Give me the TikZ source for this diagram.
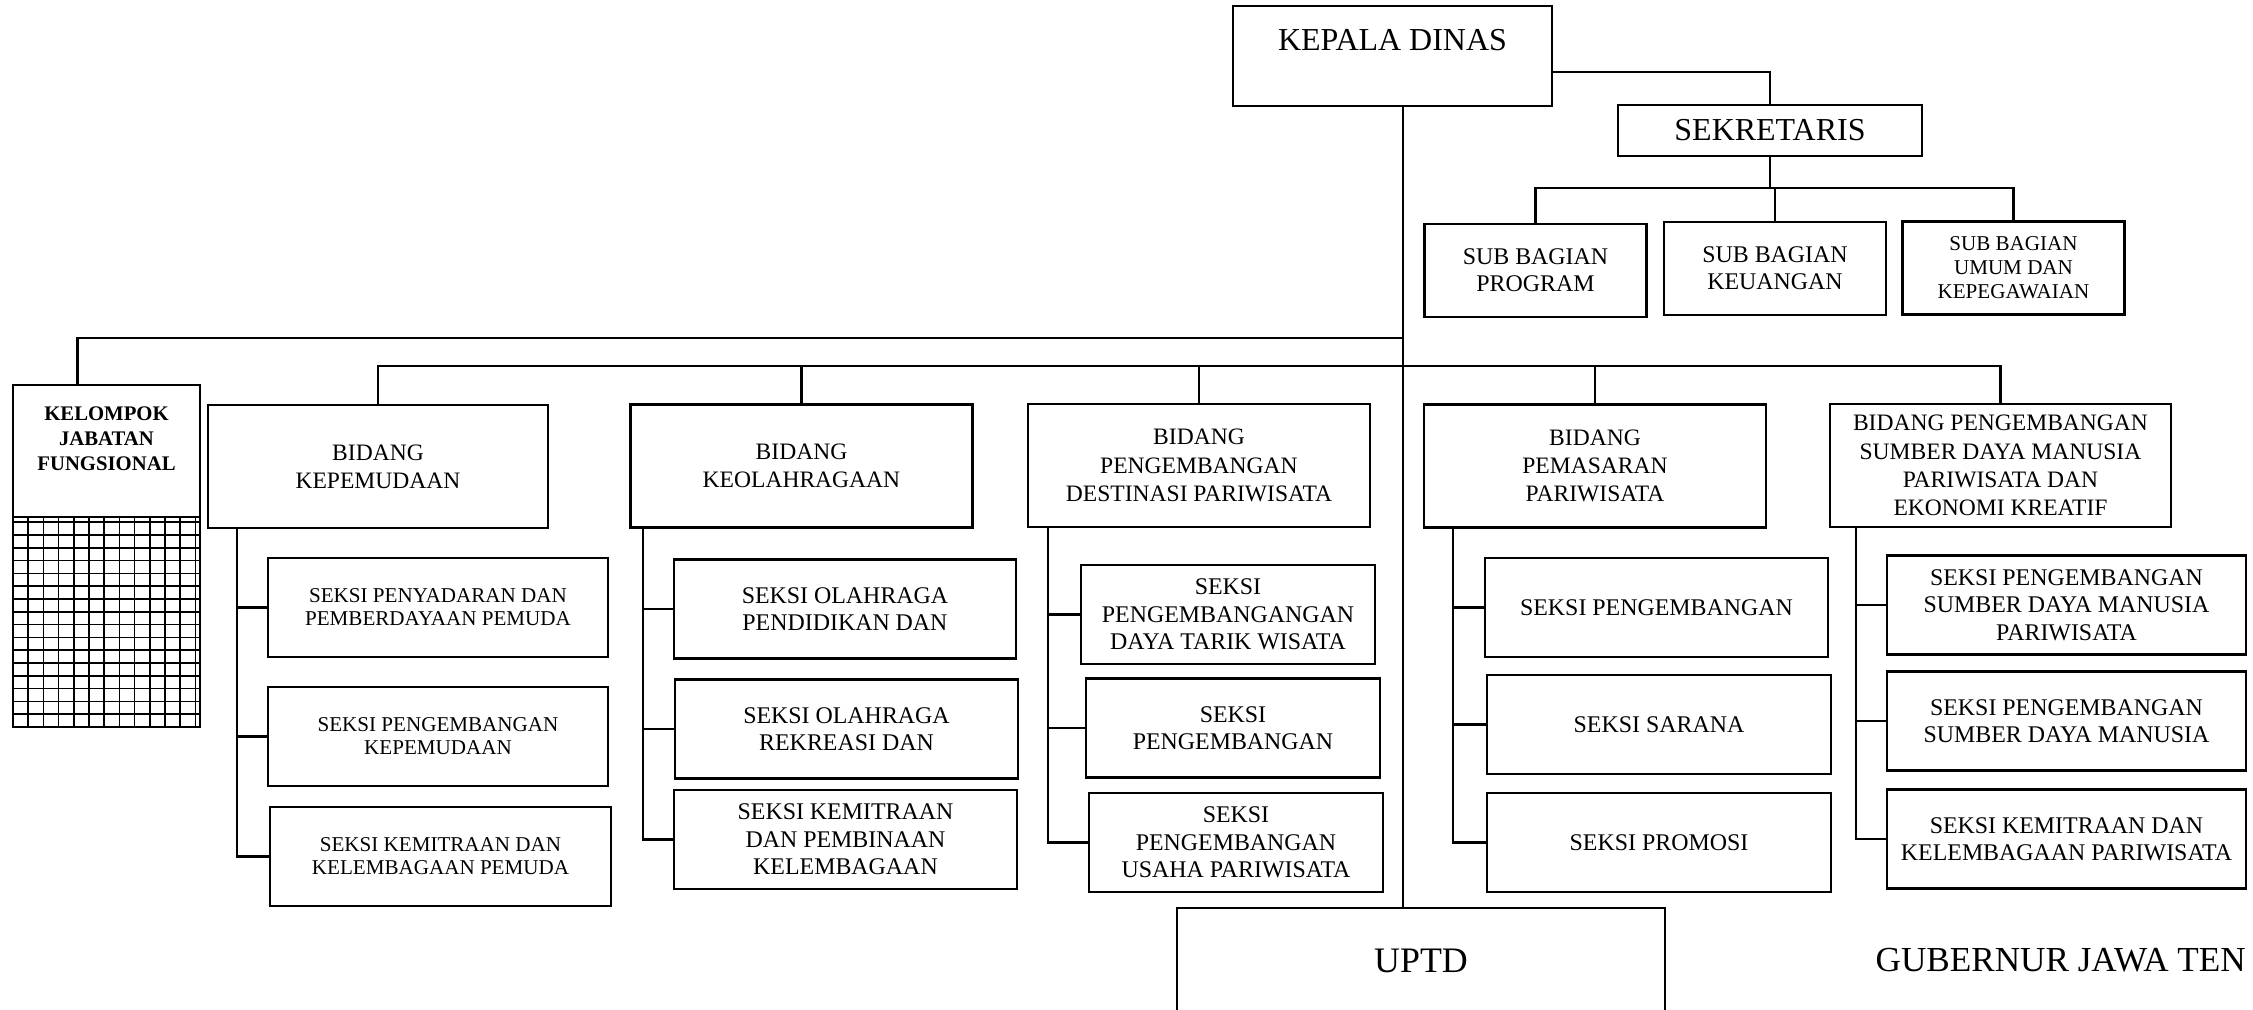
\documentclass[tikz,border=0pt]{standalone}
\usepackage{fontspec}
\setmainfont{Liberation Serif}
\begin{document}
\begin{tikzpicture}[every text node part/.style={align=center},
  box/.style={draw, line width=0.7pt, inner sep=1pt},
  bidang/.style={box, minimum width=3.42cm, minimum height=1.23cm, font=\fontsize{6.7}{8}\selectfont},
  seksi/.style={box, minimum height=0.99cm, font=\fontsize{6.8}{7.8}\selectfont},
  subbag/.style={box, minimum width=2.22cm, minimum height=0.93cm, font=\fontsize{6.8}{7.6}\selectfont},
  link/.style={line width=0.6pt}]

\useasboundingbox (0,0) rectangle (22.53,10.10);
\clip (0,0) rectangle (22.53,10.10);

% pimpinan dan sekretariat
\node[box, minimum width=3.19cm, minimum height=1cm,
  label={[anchor=north, yshift=-0.12cm, font=\fontsize{9.1}{11}\selectfont]north:KEPALA DINAS}] (kadis) at (13.925,9.54) {};
\node[box, minimum width=3.04cm, minimum height=0.51cm, font=\fontsize{9.1}{11}\selectfont] (sek) at (17.70,8.795) {SEKRETARIS};
\node[subbag] (sb1) at (15.355,7.395) {SUB BAGIAN\\PROGRAM};
\node[subbag] (sb2) at (17.75,7.415) {SUB BAGIAN\\KEUANGAN};
\node[subbag, font=\fontsize{6}{6.8}\selectfont] (sb3) at (20.135,7.42) {SUB BAGIAN\\UMUM DAN\\KEPEGAWAIAN};

% kelompok jabatan fungsional
\node[box, minimum width=1.87cm, minimum height=1.32cm,
  label={[anchor=north, yshift=-0.11cm, align=center, font=\fontsize{5.9}{7}\selectfont\bfseries]north:KELOMPOK\\JABATAN\\FUNGSIONAL}] (jf) at (1.065,5.59) {};
\draw[line width=0.5pt, xstep=0.152cm, ystep=0.128cm, shift={(0.13,2.83)}] (0,0) grid (1.87,2.10);
\draw[box] (0.13,2.83) rectangle (2.0,4.93);

% bidang
\node[bidang, minimum width=3.40cm] (kep) at (3.78,5.435) {BIDANG\\KEPEMUDAAN};
\node[bidang] (olr) at (8.015,5.44) {BIDANG\\KEOLAHRAGAAN};
\node[bidang] (dst) at (11.99,5.445) {BIDANG\\PENGEMBANGAN\\DESTINASI PARIWISATA};
\node[bidang] (pms) at (15.95,5.44) {BIDANG\\PEMASARAN\\PARIWISATA};
\node[bidang, minimum width=3.41cm] (sdm) at (20.005,5.445) {BIDANG PENGEMBANGAN\\SUMBER DAYA MANUSIA\\PARIWISATA DAN\\EKONOMI KREATIF};

% seksi
\node[seksi, minimum width=3.40cm, font=\fontsize{6}{6.6}\selectfont] (kp1) at (4.38,4.025) {SEKSI PENYADARAN DAN\\PEMBERDAYAAN PEMUDA};
\node[seksi, minimum width=3.40cm, font=\fontsize{6}{6.6}\selectfont] (kp2) at (4.38,2.735) {SEKSI PENGEMBANGAN\\KEPEMUDAAN};
\node[seksi, minimum width=3.41cm, font=\fontsize{6}{6.6}\selectfont] (kp3) at (4.405,1.535) {SEKSI KEMITRAAN DAN\\KELEMBAGAAN PEMUDA};

\node[seksi, minimum width=3.42cm] (ol1) at (8.45,4.01) {SEKSI OLAHRAGA\\PENDIDIKAN DAN};
\node[seksi, minimum width=3.43cm] (ol2) at (8.465,2.81) {SEKSI OLAHRAGA\\REKREASI DAN};
\node[seksi, minimum width=3.43cm] (ol3) at (8.455,1.705) {SEKSI KEMITRAAN\\DAN PEMBINAAN\\KELEMBAGAAN};

\node[seksi, minimum width=2.94cm] (ds1) at (12.28,3.955) {SEKSI\\PENGEMBANGANGAN\\DAYA TARIK WISATA};
\node[seksi, minimum width=2.94cm] (ds2) at (12.33,2.82) {SEKSI\\PENGEMBANGAN};
\node[seksi, minimum width=2.94cm] (ds3) at (12.36,1.675) {SEKSI\\PENGEMBANGAN\\USAHA PARIWISATA};

\node[seksi, minimum width=3.43cm] (pm1) at (16.565,4.025) {SEKSI PENGEMBANGAN};
\node[seksi, minimum width=3.44cm] (pm2) at (16.59,2.855) {SEKSI SARANA};
\node[seksi, minimum width=3.44cm] (pm3) at (16.59,1.675) {SEKSI PROMOSI};

\node[seksi, minimum width=3.59cm] (sd1) at (20.665,4.05) {SEKSI PENGEMBANGAN\\SUMBER DAYA MANUSIA\\PARIWISATA};
\node[seksi, minimum width=3.59cm] (sd2) at (20.665,2.89) {SEKSI PENGEMBANGAN\\SUMBER DAYA MANUSIA};
\node[seksi, minimum width=3.59cm] (sd3) at (20.665,1.71) {SEKSI KEMITRAAN DAN\\KELEMBAGAAN PARIWISATA};

% uptd
\node[box, minimum width=4.88cm, minimum height=1.06cm, font=\fontsize{10.2}{12}\selectfont] (uptd) at (14.21,0.49) {UPTD};
\node[anchor=base west, inner sep=0pt, font=\fontsize{10}{12}\selectfont] (gub) at (18.75,0.38) {GUBERNUR JAWA TEN};

% garis komando
\coordinate (spine) at (14.03,0);
\draw[link] (kadis.south -| spine) -- (uptd.north -| spine);
\draw[link] ([yshift=-0.16cm]kadis.east) -| (sek.north);

\coordinate (sbus) at (17.70,8.22);
\draw[link] (sek.south) -- (sbus);
\draw[link] (sb1.north) |- (sbus) -| (sb3.north);
\draw[link] (sb2.north) -- (sb2.north |- sbus);

\coordinate (bus1) at (14.03,6.72);
\draw[link] ([xshift=-0.29cm]jf.north) |- (bus1);

\coordinate (bus2) at (14.03,6.44);
\draw[link] (kep.north) |- (bus2) -| (sdm.north);
\draw[link] (olr.north) -- (olr.north |- bus2);
\draw[link] (dst.north) -- (dst.north |- bus2);
\draw[link] (pms.north) -- (pms.north |- bus2);

% garis ke seksi
\coordinate (tkep) at ([xshift=0.30cm]kep.south west);
\draw[link] (tkep) |- (kp3.west);
\draw[link] (kp1.west) -- (kp1.west -| tkep);
\draw[link] (kp2.west) -- (kp2.west -| tkep);

\coordinate (tolr) at ([xshift=0.14cm]olr.south west);
\draw[link] (tolr) |- (ol3.west);
\draw[link] (ol1.west) -- (ol1.west -| tolr);
\draw[link] (ol2.west) -- (ol2.west -| tolr);

\coordinate (tdst) at ([xshift=0.21cm]dst.south west);
\draw[link] (tdst) |- (ds3.west);
\draw[link] (ds1.west) -- (ds1.west -| tdst);
\draw[link] (ds2.west) -- (ds2.west -| tdst);

\coordinate (tpms) at ([xshift=0.30cm]pms.south west);
\draw[link] (tpms) |- (pm3.west);
\draw[link] (pm1.west) -- (pm1.west -| tpms);
\draw[link] (pm2.west) -- (pm2.west -| tpms);

\coordinate (tsdm) at ([xshift=0.27cm]sdm.south west);
\draw[link] (tsdm) |- (sd3.west);
\draw[link] (sd1.west) -- (sd1.west -| tsdm);
\draw[link] (sd2.west) -- (sd2.west -| tsdm);

\end{tikzpicture}
\end{document}
